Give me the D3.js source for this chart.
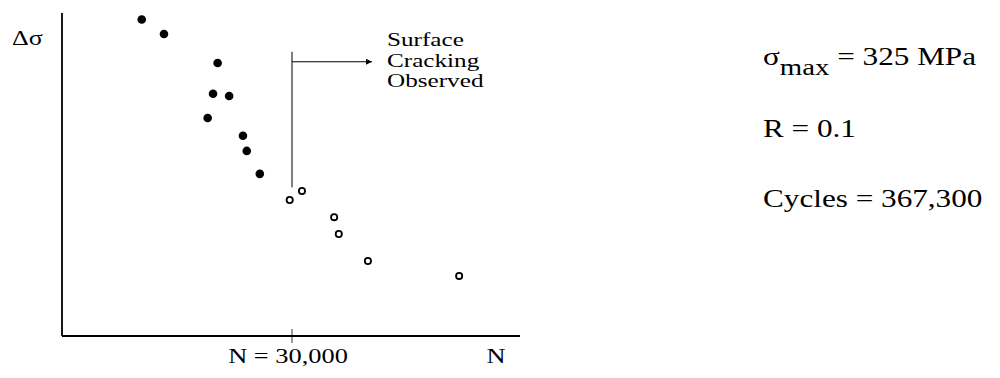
<!DOCTYPE html>
<html>
<head>
<meta charset="utf-8">
<script src="https://cdn.jsdelivr.net/npm/d3@7"></script>
<style>
  body { margin: 0; background: #fff; }
  text { font-family: "Liberation Serif", "Times New Roman", serif; fill: #000; }
</style>
</head>
<body>
<div id="chart"></div>
<script>
// fatigue data (N in cycles, stress range in relative units)
var filledN  = [10400, 13300, 20300, 19700, 21800, 19000, 23600, 24100, 25800];
var filledDS = [98, 93.5, 84.5, 75, 74.3, 67.5, 62, 57.3, 50.2];
var openN    = [29700, 31300, 35500, 36100, 39900, 51800];
var openDS   = [42.1, 44.9, 36.8, 31.6, 23.2, 18.6];

var crackN = 30000;
var noteLines = ["Surface", "Cracking", "Observed"];
var infoLines = ["R = 0.1", "Cycles = 367,300"];

var width = 1000, height = 378;
var stretch = 1.2; // scanned text is wider than plain Times

var svg = d3.select("#chart")
            .append("svg")
            .attr("width", width)
            .attr("height", height);

var x = d3.scaleLinear().domain([0, 60000]).range([62, 522]);
var y = d3.scaleLinear().domain([0, 100]).range([336, 13]);

// helper for horizontally stretched text
function label(str, px, py, size, anchor, sx) {
  return svg.append("text")
    .attr("transform", "translate(" + px + "," + py + ") scale(" + (sx || stretch) + ",1)")
    .attr("font-size", size)
    .attr("text-anchor", anchor || "start")
    .text(str);
}

// axes (plain lines, no numeric ticks)
svg.append("line")
   .attr("x1", x(0)).attr("x2", x(0))
   .attr("y1", y(100)).attr("y2", y(0))
   .attr("stroke", "#000").attr("stroke-width", 1.8);
svg.append("line")
   .attr("x1", x(0)).attr("x2", x(60000) - 2)
   .attr("y1", y(0)).attr("y2", y(0))
   .attr("stroke", "#000").attr("stroke-width", 1.8);

// tick at N = 30,000
svg.append("line")
   .attr("x1", x(crackN)).attr("x2", x(crackN))
   .attr("y1", y(0) - 7).attr("y2", y(0) + 7)
   .attr("stroke", "#000").attr("stroke-width", 0.8);

// surface cracking marker + arrow
svg.append("defs").append("marker")
   .attr("id", "arrow")
   .attr("viewBox", "0 0 10 10")
   .attr("refX", 10).attr("refY", 5)
   .attr("markerWidth", 9).attr("markerHeight", 6)
   .attr("markerUnits", "userSpaceOnUse")
   .attr("orient", "auto")
   .append("path")
   .attr("d", "M0,0L10,5L0,10z")
   .attr("fill", "#000");

svg.append("line")
   .attr("x1", x(crackN)).attr("x2", x(crackN))
   .attr("y1", y(88)).attr("y2", y(46))
   .attr("stroke", "#000").attr("stroke-width", 1);
svg.append("line")
   .attr("x1", x(crackN)).attr("x2", x(crackN) + 80)
   .attr("y1", y(88) + 10).attr("y2", y(88) + 10)
   .attr("stroke", "#000").attr("stroke-width", 1.2)
   .attr("marker-end", "url(#arrow)");

// points
svg.selectAll(".filled")
   .data(d3.zip(filledN, filledDS))
   .enter().append("circle")
   .attr("class", "filled")
   .attr("cx", function(d) { return x(d[0]); })
   .attr("cy", function(d) { return y(d[1]); })
   .attr("r", 4.3)
   .attr("fill", "#000");

svg.selectAll(".open")
   .data(d3.zip(openN, openDS))
   .enter().append("circle")
   .attr("class", "open")
   .attr("cx", function(d) { return x(d[0]); })
   .attr("cy", function(d) { return y(d[1]); })
   .attr("r", 3.1)
   .attr("fill", "#fff")
   .attr("stroke", "#000")
   .attr("stroke-width", 1.8);

// labels
label("\u0394\u03c3", 12, 45, 20, "start", 1.3);
label("N = 30,000", 288, 363, 22, "middle");
label("N", 496, 363, 22, "middle");

noteLines.forEach(function(s, i) {
  label(s, 387, 46 + i * 20.5, 18, "start", 1.4);
});

var sig = label("\u03c3", 763, 65, 26);
sig.append("tspan").attr("dy", 10).attr("font-size", 24).text("max");
sig.append("tspan").attr("dy", -10).text(" = 325 MPa");

infoLines.forEach(function(s, i) {
  label(s, 763, 137 + i * 70, 26);
});
</script>
</body>
</html>
